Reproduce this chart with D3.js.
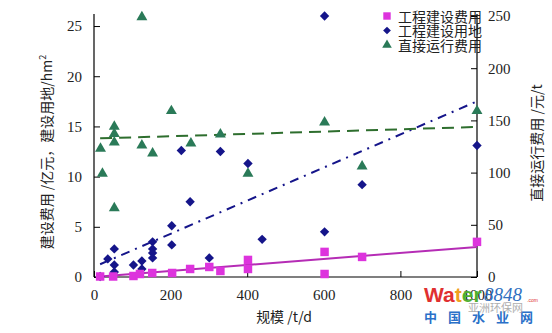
<!DOCTYPE html>
<html><head><meta charset="utf-8">
<script src="https://cdn.jsdelivr.net/npm/d3@7"></script>
<style>body{margin:0;background:#fff}svg{display:block}</style>
</head><body>
<svg id="c" width="552" height="333"></svg>
<script>
// Data
const costX = [16, 50, 103, 120, 152, 204, 251, 301, 330, 402, 402, 602, 602, 700, 1000];
const costY = [0.05, 0.05, 0.1, 0.3, 0.4, 0.4, 0.8, 1.0, 0.6, 1.7, 0.8, 2.5, 0.3, 2.0, 3.5];
const landX = [16, 36, 53, 53, 53, 103, 125, 125, 153, 153, 153, 153, 203, 203, 228, 251, 301, 330, 402, 439, 602, 602, 700, 1000];
const landY = [0.05, 1.8, 2.8, 1.2, 0.5, 1.2, 1.6, 0.8, 3.5, 2.8, 2.4, 1.9, 5.1, 3.2, 12.6, 7.5, 1.9, 12.5, 11.3, 3.75, 26.0, 4.5, 9.2, 13.1];
const runX = [17, 22, 53, 53, 53, 53, 125, 125, 153, 202, 253, 330, 402, 602, 700, 1000];
const runY = [124, 100, 145, 138, 130, 67, 250, 127, 119.5, 160, 129, 137.6, 100, 149, 107, 160];
// Trendlines (endpoints)
const costTrendX = [16, 1000], costTrendY = [0.05, 3.0];
const landTrendX = [16, 1000], landTrendY = [1.27, 17.5];
const runTrendX = [16, 1000], runTrendY = [132.8, 143.7];
const xTicks = [0, 200, 400, 600, 800, 1000];
const yLeftTicks = [0, 5, 10, 15, 20, 25];
const yRightTicks = [0, 50, 100, 150, 200, 250];
const legendNames = ["工程建设费用", "工程建设用地", "直接运行费用"];

const svg = d3.select("#c");
const L = 94, R = 477, T = 16, B = 277;
const x = d3.scaleLinear().domain([0, 1000]).range([L, R]);
const yL = d3.scaleLinear().domain([0, 26]).range([B, T]);
const yR = d3.scaleLinear().domain([0, 250]).range([B, T]);

const serif = "'Liberation Serif','Times New Roman',serif";
const cjk = "'Noto Sans CJK SC','Noto Sans CJK JP',sans-serif";

const pink = "#dd33dd", navy = "#15158a", green = "#2a7a58";

// Axes
const gx = svg.append("g").attr("transform", `translate(0,${B})`)
  .call(d3.axisBottom(x).tickValues(xTicks).tickSizeInner(-6).tickSizeOuter(0).tickPadding(12).tickFormat(d3.format("d")));
const gl = svg.append("g").attr("transform", `translate(${L},0)`)
  .call(d3.axisLeft(yL).tickValues(yLeftTicks).tickSizeInner(-6).tickSizeOuter(0).tickPadding(12));
const gr = svg.append("g").attr("transform", `translate(${R},0)`)
  .call(d3.axisRight(yR).tickValues(yRightTicks).tickSizeInner(-6).tickSizeOuter(0).tickPadding(11));
[gx, gl, gr].forEach(g => {
  g.select(".domain").attr("stroke", "#000").attr("stroke-width", 1.2);
  g.selectAll(".tick line").attr("stroke", "#000");
  g.selectAll("text").attr("font-family", serif).attr("font-size", 15).attr("fill", "#222");
});
gx.select(".domain").attr("d", `M${L},0H${R}`);
gl.select(".domain").attr("d", `M0,${B}V${T - 2}`);
gr.select(".domain").attr("d", `M0,${B}V${T - 2}`);

// Trendlines
const lineL = d3.line().x(d => x(d[0])).y(d => yL(d[1]));
const lineR = d3.line().x(d => x(d[0])).y(d => yR(d[1]));
svg.append("path").datum(d3.zip(costTrendX, costTrendY)).attr("d", lineL)
  .attr("stroke", "#b52cb5").attr("stroke-width", 2).attr("fill", "none");
svg.append("path").datum(d3.zip(landTrendX, landTrendY)).attr("d", lineL)
  .attr("stroke", navy).attr("stroke-width", 2).attr("fill", "none").attr("stroke-dasharray", "9,6,2,6");
svg.append("path").datum(d3.zip(runTrendX, runTrendY)).attr("d", lineR)
  .attr("stroke", "#2e6e2e").attr("stroke-width", 2).attr("fill", "none").attr("stroke-dasharray", "12,7");

// Markers
const sq = d3.symbol().type(d3.symbolSquare).size(72);
const dia = d3.symbol().type(d3.symbolSquare).size(44);
const tri = d3.symbol().type(d3.symbolTriangle).size(52);

svg.append("g").selectAll("path").data(d3.zip(runX, runY)).join("path")
  .attr("d", tri).attr("transform", d => `translate(${x(d[0])},${yR(d[1]) + 1})`).attr("fill", green);
svg.append("g").selectAll("path").data(d3.zip(landX, landY)).join("path")
  .attr("d", dia).attr("transform", d => `translate(${x(d[0])},${yL(d[1])}) rotate(45)`).attr("fill", navy);
svg.append("g").selectAll("path").data(d3.zip(costX, costY)).join("path")
  .attr("d", sq).attr("transform", d => `translate(${x(d[0])},${yL(d[1])})`).attr("fill", pink);

// Legend
const lg = svg.append("g");
const legSyms = [d3.symbol().type(d3.symbolSquare).size(55), d3.symbol().type(d3.symbolSquare).size(30), d3.symbol().type(d3.symbolTriangle).size(40)];
const legRot = [0, 45, 0], legCols = [pink, navy, green];
legendNames.forEach((n, i) => {
  const yy = 16 + i * 14.5;
  lg.append("path").attr("d", legSyms[i]()).attr("transform", `translate(387,${yy}) rotate(${legRot[i]})`).attr("fill", legCols[i]);
  lg.append("text").attr("x", 398).attr("y", yy + 5.5).text(n)
    .attr("font-family", cjk).attr("font-size", 14).attr("fill", "#222");
});

// Axis titles
svg.append("text").attr("transform", `translate(52,152) rotate(-90)`).attr("text-anchor", "middle")
  .attr("font-family", cjk).attr("font-size", 14).attr("fill", "#222")
  .html('建设费用 /亿元，建设用地/hm<tspan dy="-6" font-size="9">2</tspan>');
svg.append("text").attr("transform", `translate(542,143) rotate(-90)`).attr("text-anchor", "middle")
  .attr("font-family", cjk).attr("font-size", 14).attr("fill", "#222").text("直接运行费用 /元/t");
svg.append("text").attr("x", 284).attr("y", 322).attr("text-anchor", "middle")
  .attr("font-family", cjk).attr("font-size", 14).attr("fill", "#222").text("规模 /t/d");

// Watermark
const wm = svg.append("g");
const wt = wm.append("text").attr("x", 424).attr("y", 302).attr("font-family", "Arial, sans-serif")
  .attr("font-weight", "bold").attr("font-size", 21);
[["W", "#e03030"], ["a", "#e03030"], ["t", "#f0a020"], ["e", "#50b030"], ["r", "#50b030"]].forEach(([c, col]) =>
  wt.append("tspan").attr("fill", col).text(c));
wm.append("text").attr("x", 484).attr("y", 301).attr("font-family", serif).attr("font-style", "italic")
  .attr("font-size", 19).attr("fill", "#3070c0").text("8848");
wm.append("text").attr("x", 527).attr("y", 302).attr("font-family", "Arial").attr("font-size", 5).attr("fill", "#e03030").text(".com");
wm.append("text").attr("x", 424).attr("y", 322).attr("font-family", cjk).attr("font-weight", "bold")
  .attr("font-size", 13).attr("fill", "#2a70c8").attr("letter-spacing", 11).text("中国水业网");
wm.append("text").attr("x", 468).attr("y", 312).attr("font-family", cjk)
  .attr("font-size", 11).attr("fill", "#9a9a9a").attr("opacity", 0.8).text("亚洲环保网");
</script>
</body></html>
